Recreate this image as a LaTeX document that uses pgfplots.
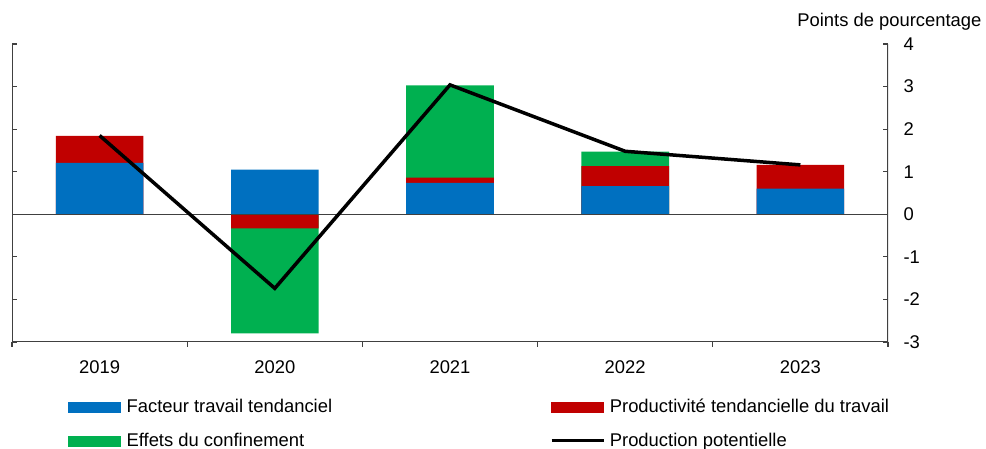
\documentclass[border=0pt]{standalone}
\usepackage{pgfplots}
\pgfplotsset{compat=1.18}
\usepackage{fontspec}
\setmainfont{Liberation Sans}

\definecolor{cblue}{HTML}{0070C0}
\definecolor{cred}{HTML}{C00000}
\definecolor{cgreen}{HTML}{00B050}
\definecolor{caxis}{HTML}{404040}

\begin{document}
\begin{tikzpicture}[font=\fontsize{18.4}{21}\selectfont]
\path[use as bounding box] (0pt,0pt) rectangle (986pt,449pt);
\node[anchor=base east] at (985pt,422pt) {Points de pourcentage};
\begin{axis}[
  at={(12pt,107pt)}, anchor=south west,
  scale only axis, width=876pt, height=298pt,
  xmin=-0.5, xmax=4.5, ymin=-3, ymax=4,
  axis line style={draw=none},
  tick style={caxis, line width=1.2pt},
  major tick length=5pt,
  tick align=inside,
  xtick={-0.5,0.5,...,4.5},
  x tick label as interval,
  xticklabels={2019,2020,2021,2022,2023},
  xtick pos=bottom,
  xticklabel style={yshift=-10pt},
  ytick={-3,-2,...,4},
  yticklabels={-3,-2,-1,0,1,2,3,4},
  ytick pos=both,
  yticklabel pos=right,
  yticklabel style={xshift=12pt},
  ybar, bar width=0.5, bar shift=0pt,
  legend columns=2,
  legend style={at={(axis description cs:0.0639,-0.185)}, anchor=north west,
    draw=none, fill=none, inner sep=0pt, row sep=15pt,
    cells={anchor=west},
    /tikz/every even column/.append style={column sep=216pt}},
]
% bars drawn as cumulative heights, painted from the outermost layer inwards
\addplot[forget plot, fill=cgreen, draw=none] coordinates {(1,-2.80) (2,3.03) (3,1.47)};
\addplot[forget plot, fill=cred, draw=none] coordinates {(0,1.84) (1,-0.33) (2,0.86) (3,1.13) (4,1.16)};
\addplot[forget plot, fill=cblue, draw=none] coordinates {(0,1.21) (1,1.05) (2,0.74) (3,0.66) (4,0.60)};
% zero line
\addplot[forget plot, sharp plot, caxis, line width=1.2pt] coordinates {(-0.5,0) (4.5,0)};
% potential output
\addplot[forget plot, sharp plot, black, line width=3.5pt] coordinates {(0,1.85) (1,-1.74) (2,3.04) (3,1.48) (4,1.16)};
% axis frame without top edge
\draw[caxis, line width=1.2pt] (rel axis cs:0,1) -- (rel axis cs:0,0) -- (rel axis cs:1,0) -- (rel axis cs:1,1);

\addlegendimage{legend image code/.code={\fill[cblue] (0pt,-5pt) rectangle (52pt,5pt); \path (56pt,0pt);}}
\addlegendentry{Facteur travail tendanciel}
\addlegendimage{legend image code/.code={\fill[cred] (0pt,-5pt) rectangle (52pt,5pt); \path (56pt,0pt);}}
\addlegendentry{Productivité tendancielle du travail}
\addlegendimage{legend image code/.code={\fill[cgreen] (0pt,-5pt) rectangle (52pt,5pt); \path (56pt,0pt);}}
\addlegendentry{Effets du confinement}
\addlegendimage{legend image code/.code={\draw[black, line width=3pt] (0pt,0pt) -- (52pt,0pt); \path (56pt,0pt);}}
\addlegendentry{Production potentielle}
\end{axis}
\end{tikzpicture}
\end{document}
